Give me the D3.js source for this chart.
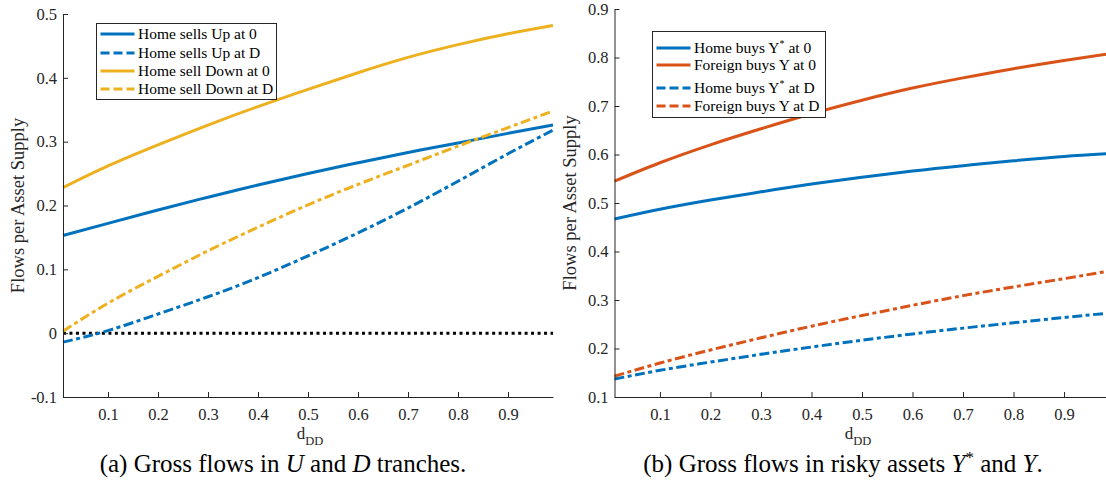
<!DOCTYPE html>
<html>
<head>
<meta charset="utf-8">
<script src="https://cdn.jsdelivr.net/npm/d3@7"></script>
<style>
  body { margin: 0; background: #fff; }
  svg text { font-family: "Liberation Serif", "Times New Roman", serif !important; }
</style>
</head>
<body>
<svg id="chart" width="1106" height="493"></svg>
<script>
// x grid shared by every curve
const dGrid = [0.01, 0.1, 0.2, 0.3, 0.4, 0.5, 0.6, 0.7, 0.8, 0.9, 0.99];
const xTicks = [0.1, 0.2, 0.3, 0.4, 0.5, 0.6, 0.7, 0.8, 0.9];

// panel (a): U and D tranches
const upAt0 = [0.153, 0.172, 0.193, 0.213, 0.232, 0.250, 0.267, 0.283, 0.298, 0.313, 0.326];
const upAtD = [-0.014, 0.004, 0.030, 0.057, 0.087, 0.121, 0.157, 0.196, 0.238, 0.281, 0.318];
const downAt0 = [0.228, 0.262, 0.295, 0.326, 0.355, 0.382, 0.408, 0.432, 0.452, 0.469, 0.482];
const downAtD = [0.003, 0.047, 0.089, 0.129, 0.166, 0.201, 0.233, 0.263, 0.293, 0.322, 0.348];
const zeroLine = [0, 0, 0, 0, 0, 0, 0, 0, 0, 0, 0];
const yTicksA = [-0.1, 0, 0.1, 0.2, 0.3, 0.4, 0.5];

// panel (b): risky assets Y* and Y
const homeYsAt0 = [0.467, 0.487, 0.506, 0.523, 0.539, 0.553, 0.566, 0.577, 0.587, 0.596, 0.602];
const foreignYAt0 = [0.545, 0.583, 0.620, 0.653, 0.684, 0.712, 0.737, 0.758, 0.777, 0.794, 0.808];
const homeYsAtD = [0.137, 0.155, 0.172, 0.188, 0.203, 0.217, 0.230, 0.242, 0.253, 0.264, 0.273];
const foreignYAtD = [0.143, 0.170, 0.197, 0.222, 0.246, 0.268, 0.289, 0.309, 0.327, 0.344, 0.360];
const yTicksB = [0.1, 0.2, 0.3, 0.4, 0.5, 0.6, 0.7, 0.8, 0.9];

const colors = { blue: "#0072BD", orange: "#D95319", yellow: "#EDB120" };
const dashDot = "10,3.5,4,3.5";
const axisColor = "#262626";
const serif = '"Liberation Serif", "Times New Roman", serif';

const svg = d3.select("#chart");

function tickFmt(d) {
  if (d === 0) return "0";
  return d3.format(".1f")(d).replace("\u2212", "-");
}

function drawPanel(cfg) {
  const x = d3.scaleLinear().domain([0.01, 0.99]).range(cfg.xRange);
  const y = d3.scaleLinear().domain(cfg.yDomain).range(cfg.yRange);
  const g = svg.append("g");

  const line = d3.line()
    .x((d, i) => x(dGrid[i]))
    .y(d => y(d))
    .curve(d3.curveNatural);

  // curves
  cfg.series.forEach(s => {
    g.append("path")
      .datum(s.values)
      .attr("d", line)
      .attr("fill", "none")
      .attr("stroke", s.color)
      .attr("stroke-width", 3)
      .attr("stroke-dasharray", s.dash || null);
  });

  // axes (box off, ticks inward)
  const xAxis = g.append("g")
    .attr("transform", `translate(0,${cfg.yRange[0]})`)
    .call(d3.axisBottom(x).tickValues(xTicks).tickSizeInner(-5).tickSizeOuter(0)
      .tickPadding(11).tickFormat(tickFmt));
  const yAxis = g.append("g")
    .attr("transform", `translate(${cfg.xRange[0]},0)`)
    .call(d3.axisLeft(y).tickValues(cfg.yTicks).tickSizeInner(-5).tickSizeOuter(0)
      .tickPadding(6).tickFormat(tickFmt));
  [xAxis, yAxis].forEach(a => {
    a.attr("font-family", serif).attr("font-size", 16.5);
    a.selectAll("path, line").attr("stroke", axisColor).attr("stroke-width", 1);
    a.selectAll("text")
      .style("font-family", serif)
      .style("font-size", "16.5px")
      .attr("fill", axisColor);
  });

  // x label d_DD
  const xl = g.append("text")
    .attr("x", cfg.xLabelX)
    .attr("y", 439)
    .attr("text-anchor", "middle")
    .style("font-family", serif)
    .attr("font-size", 17)
    .attr("fill", axisColor);
  xl.append("tspan").text("d");
  xl.append("tspan").attr("dy", 6).attr("font-size", 12.5).text("DD");

  // y label
  g.append("text")
    .attr("transform", `translate(${cfg.xRange[0] - 45},${(cfg.yRange[0] + cfg.yRange[1]) / 2}) rotate(-90)`)
    .attr("text-anchor", "middle")
    .attr("dy", "0.35em")
    .style("font-family", serif)
    .attr("font-size", 18.5)
    .attr("fill", axisColor)
    .text("Flows per Asset Supply");

  // legend
  const lg = g.append("g").attr("transform", `translate(${cfg.legend.x},${cfg.legend.y})`);
  lg.append("rect")
    .attr("width", cfg.legend.w).attr("height", cfg.legend.h)
    .attr("fill", "#fff").attr("stroke", axisColor).attr("stroke-width", 1);
  cfg.series.filter(s => s.label).forEach((s, i) => {
    const ry = cfg.legend.rows[i];
    lg.append("line")
      .attr("x1", 4).attr("x2", 38).attr("y1", ry).attr("y2", ry)
      .attr("stroke", s.color).attr("stroke-width", 3)
      .attr("stroke-dasharray", s.dash ? "9,4" : null);
    const t = lg.append("text")
      .attr("x", 41.5).attr("y", ry + 5)
      .style("font-family", serif)
      .attr("font-size", 15.5)
      .attr("fill", "#000");
    s.label.forEach(part => {
      const ts = t.append("tspan").text(part.t);
      if (part.sup) ts.attr("dy", -6).attr("font-size", 10);
      if (part.after) ts.attr("dy", 6);
    });
  });

  // caption
  const cap = svg.append("text")
    .attr("x", cfg.caption.x).attr("y", 472)
    .attr("text-anchor", "middle")
    .style("font-family", serif)
    .attr("font-size", 25)
    .attr("fill", "#000");
  cfg.caption.parts.forEach(p => {
    const ts = cap.append("tspan").text(p.t);
    if (p.i) ts.attr("font-style", "italic");
    if (p.sup) ts.attr("dy", -9).attr("font-size", 17);
    if (p.after) ts.attr("dy", 9);
  });
}

drawPanel({
  xRange: [63, 553],
  yDomain: [-0.1, 0.5],
  yRange: [397, 14],
  yTicks: yTicksA,
  xLabelX: 310,
  series: [
    { values: zeroLine, color: "#000", dash: "3,3.5" },
    { values: upAt0, color: colors.blue, label: [{ t: "Home sells Up at 0" }] },
    { values: upAtD, color: colors.blue, dash: dashDot, label: [{ t: "Home sells Up at D" }] },
    { values: downAt0, color: colors.yellow, label: [{ t: "Home sell Down at 0" }] },
    { values: downAtD, color: colors.yellow, dash: dashDot, label: [{ t: "Home sell Down at D" }] }
  ],
  legend: { x: 96.5, y: 23.5, w: 180, h: 76, rows: [10.5, 29.5, 47.5, 65.5] },
  caption: {
    x: 283,
    parts: [{ t: "(a) Gross flows in " }, { t: "U", i: true }, { t: " and " }, { t: "D", i: true }, { t: " tranches." }]
  }
});

drawPanel({
  xRange: [614.5, 1109.5],
  yDomain: [0.1, 0.9],
  yRange: [397, 9],
  yTicks: yTicksB,
  xLabelX: 858,
  series: [
    { values: homeYsAt0, color: colors.blue, label: [{ t: "Home buys Y" }, { t: "*", sup: true }, { t: " at 0", after: true }] },
    { values: foreignYAt0, color: colors.orange, label: [{ t: "Foreign buys Y at 0" }] },
    { values: homeYsAtD, color: colors.blue, dash: dashDot, label: [{ t: "Home buys Y" }, { t: "*", sup: true }, { t: " at D", after: true }] },
    { values: foreignYAtD, color: colors.orange, dash: dashDot, label: [{ t: "Foreign buys Y at D" }] }
  ],
  legend: { x: 652.5, y: 31.5, w: 173, h: 86, rows: [16.5, 33.5, 56.5, 74.5] },
  caption: {
    x: 843,
    parts: [{ t: "(b) Gross flows in risky assets " }, { t: "Y", i: true }, { t: "*", sup: true },
      { t: " and ", after: true }, { t: "Y", i: true }, { t: "." }]
  }
});
</script>
</body>
</html>
